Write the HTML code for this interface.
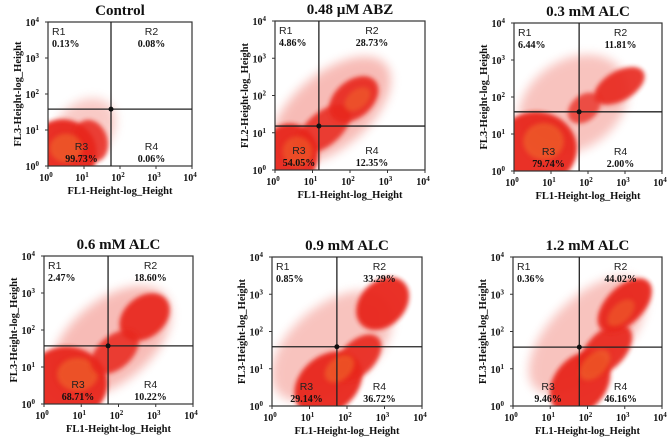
<!DOCTYPE html>
<html><head><meta charset="utf-8">
<style>
html,body{margin:0;padding:0;background:#fff;}
body{width:669px;height:442px;overflow:hidden;}
svg{display:block;}
.t{font-family:"Liberation Serif",serif;font-weight:bold;}
.s{font-family:"Liberation Sans",sans-serif;}
</style></head>
<body>
<svg id="fig" width="669" height="442" viewBox="0 0 669 442" xmlns="http://www.w3.org/2000/svg">
<defs>
<filter id="b1" x="-50%" y="-50%" width="200%" height="200%"><feGaussianBlur stdDeviation="2"/></filter>
<filter id="b2" x="-50%" y="-50%" width="200%" height="200%"><feGaussianBlur stdDeviation="5"/></filter>
</defs>
</svg>
<script>
// panel data
const titles = ["Control","0.48 \u00B5M ABZ","0.3 mM ALC","0.6 mM ALC","0.9 mM ALC","1.2 mM ALC"];
const yTitles = ["FL3-Height-log_Height","FL2-Height-log_Height","FL3-Height-log_Height","FL3-Height-log_Height","FL3-Height-log_Height","FL3-Height-log_Height"];
const xTitle = "FL1-Height-log_Height";
const r1Values = ["0.13%","4.86%","6.44%","2.47%","0.85%","0.36%"];
const r2Values = ["0.08%","28.73%","11.81%","18.60%","33.29%","44.02%"];
const r3Values = ["99.73%","54.05%","79.74%","68.71%","29.14%","9.46%"];
const r4Values = ["0.06%","12.35%","2.00%","10.22%","36.72%","46.16%"];
const gateX = [1.75,1.17,1.76,1.72,1.73,1.78];
const gateY = [1.58,1.18,1.60,1.57,1.59,1.58];
const tickExps = [0,1,2,3,4];
// clusters per panel: [cx, cy, sx, sy, angleDeg, opacity, kind] in log decades; kind 0=sparse halo,1=dense,2=core
const clusters = [
 [[1.0,1.0,1.0,0.75,-45,0.35,0],[0.4,0.35,0.95,0.95,0,0.95,1],[1.2,0.7,0.45,0.6,-20,0.85,1],[0.5,0.5,0.45,0.4,0,0.6,2]],
 [[1.5,1.6,1.9,1.0,-40,0.45,0],[0.4,0.4,0.75,0.85,0,0.95,1],[1.3,1.1,0.85,0.45,-40,0.85,1],[2.1,1.9,0.75,0.5,-40,0.9,1],[2.2,1.9,0.4,0.25,-40,0.5,2],[0.6,0.5,0.4,0.4,0,0.5,2]],
 [[1.6,1.8,1.6,1.2,-35,0.4,0],[0.6,0.6,1.1,1.0,0,0.95,1],[0.8,0.8,0.55,0.5,0,0.6,2],[2.85,2.3,0.75,0.4,-30,0.9,1],[1.9,1.7,0.5,0.35,-40,0.75,1]],
 [[1.8,1.7,1.9,1.1,-40,0.45,0],[0.6,0.55,1.1,1.0,0,0.95,1],[0.9,0.8,0.55,0.45,0,0.6,2],[2.7,2.35,0.75,0.55,-40,0.92,1],[1.9,1.4,0.75,0.45,-40,0.85,1]],
 [[1.6,1.6,1.9,1.1,-40,0.4,0],[1.5,0.6,1.0,0.75,-40,0.95,1],[2.3,1.3,0.75,0.45,-45,0.9,1],[2.95,2.75,0.8,0.6,-45,0.95,1],[1.8,1.0,0.45,0.3,-40,0.6,2]],
 [[2.0,1.9,2.0,1.0,-45,0.4,0],[1.8,0.6,0.95,0.7,-50,0.95,1],[2.5,1.5,0.85,0.5,-45,0.92,1],[3.0,2.7,0.9,0.5,-45,0.95,1],[2.2,1.1,0.5,0.3,-45,0.6,2],[2.9,2.5,0.45,0.25,-45,0.5,2]]
];
// layout
const boxes = [[48,22,144,144],[275,21,150,149],[514,23,148,148],[44,256,149,148],[272,257,150,149],[513,257,149,149]];

const NS = "http://www.w3.org/2000/svg";
const svg = document.getElementById("fig");
const defs = svg.querySelector("defs");
function mk(tag, attrs, parent){
  const e = document.createElementNS(NS, tag);
  for (const k in attrs) e.setAttribute(k, attrs[k]);
  parent.appendChild(e);
  return e;
}
function txt(str, x, y, cls, size, anchor, parent){
  const e = mk("text",{x:x,y:y,"class":cls,"font-size":size,"text-anchor":anchor||"start",fill:"#111"},parent);
  e.textContent = str;
  return e;
}
const colors = ["#ee6a5e","#e8261c","#f06a2c"];

for (let p=0;p<6;p++){
  const [bx,by,bw,bh] = boxes[p];
  const sx = v => bx + v/4*bw;
  const sy = v => by + bh - v/4*bh;
  const g = mk("g",{},svg);
  
  
  const clip = mk("clipPath",{id:"c"+p},defs);
  mk("rect",{x:bx,y:by,width:bw,height:bh},clip);
  const cg = mk("g",{"clip-path":"url(#c"+p+")"},g);
  
  
  clusters[p].forEach(c=>{
    const [cx,cy,rx,ry,ang,op,kind] = c;
    const px = sx(cx), py = sy(cy);
    const e = mk("ellipse",{cx:px,cy:py,rx:rx/4*bw,ry:ry/4*bh,fill:colors[kind],opacity:op,
      filter: kind===0?"url(#b2)":"url(#b1)", transform:"rotate("+ang+" "+px+" "+py+")"},cg);
    
    
  });
  const r = mk("rect",{x:bx,y:by,width:bw,height:bh,fill:"none",stroke:"#333","stroke-width":1.2},g);
  
  
  const gx = sx(gateX[p]), gy = sy(gateY[p]);
  const vl = mk("line",{x1:gx,y1:by,x2:gx,y2:by+bh,stroke:"#222","stroke-width":1.3},g);
  
  
  const hl = mk("line",{x1:bx,y1:gy,x2:bx+bw,y2:gy,stroke:"#222","stroke-width":1.3},g);
  
  
  mk("circle",{cx:gx,cy:gy,r:2.5,fill:"#111"},g);
  tickExps.forEach(k=>{
    const tx = sx(k), ty = sy(k);
    mk("line",{x1:tx,y1:by+bh,x2:tx,y2:by+bh+3,stroke:"#333"},g);
    mk("line",{x1:bx-3,y1:ty,x2:bx,y2:ty,stroke:"#333"},g);
    const xl = txt("10",tx-2,by+bh+15,"t",10,"middle",g);
    const sup = mk("tspan",{dy:-4,"font-size":7},xl); sup.textContent = k;
    
    
    const yl = txt("10",bx-9,ty+4,"t",10,"end",g);
    const sup2 = mk("tspan",{dy:-4,"font-size":7},yl); sup2.textContent = k;
    
    
  });
  const tt = txt(titles[p], bx+bw/2, by-7, "t", 15, "middle", g);
  
  
  const xt = txt(xTitle, bx+bw/2, by+bh+28, "t", 10.5, "middle", g);
  
  
  const yx = bx-27, yy = by+bh/2;
  const yt = txt(yTitles[p], yx, yy, "t", 10.5, "middle", g);
  yt.setAttribute("transform","rotate(-90 "+yx+" "+yy+")");
  
  
  const q = [
    ["R1", r1Values[p], bx+4, by+13, "start"],
    ["R2", r2Values[p], (gx+bx+bw)/2, by+13, "middle"],
    ["R3", r3Values[p], (bx+gx)/2+2, by+bh-16, "middle"],
    ["R4", r4Values[p], (gx+bx+bw)/2, by+bh-16, "middle"]
  ];
  q.forEach((d,i)=>{
    const a = txt(d[0], d[2], d[3], "s", 10.5, d[4], g);
    a.setAttribute("fill","#222");
    
    
    const b = txt(d[1], d[2], d[3]+12, "t", 10, d[4], g);
    
    
  });
}
</script>
</body></html>
